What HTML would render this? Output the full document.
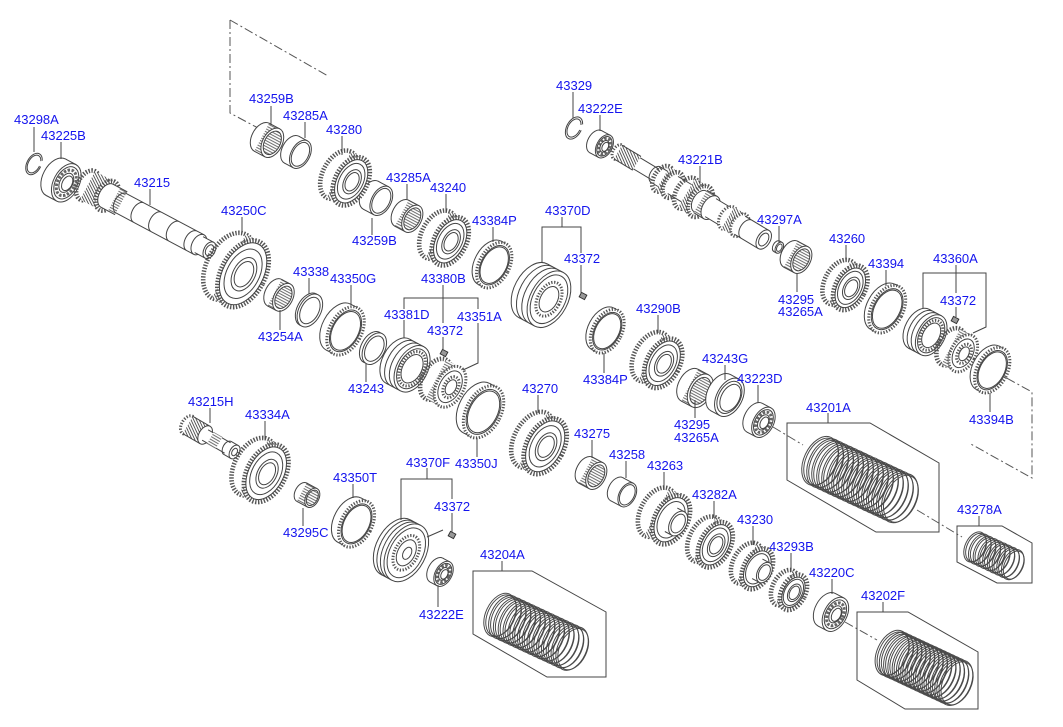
<!DOCTYPE html>
<html><head><meta charset="utf-8"><style>
html,body{margin:0;padding:0;background:#fff}
svg{display:block}
.l{fill:none;stroke:#444;stroke-width:1}
.w{fill:#fff;stroke:#444;stroke-width:1}
.wn{fill:#fff;stroke:none}
.t{fill:none;stroke:#555;stroke-width:4.6;stroke-dasharray:1.4 1.5}
.tw{fill:#fff;stroke:#555;stroke-width:4.6;stroke-dasharray:1.4 1.5}
.t3{fill:#fff;stroke:#555;stroke-width:3;stroke-dasharray:1.3 1.6}
.bl{fill:none;stroke:#666;stroke-width:3;stroke-dasharray:2.5 1.5}
.d{fill:none;stroke:#555;stroke-width:1;stroke-dasharray:9 3 2 3}
.k{fill:#999;stroke:#333;stroke-width:1}
text{font-family:"Liberation Sans",Arial,sans-serif;font-size:13px;fill:#1414ee}
</style></head><body>
<svg width="1063" height="727" viewBox="0 0 1063 727" xmlns="http://www.w3.org/2000/svg">
<defs>
<pattern id="nd" width="10" height="2.6" patternUnits="userSpaceOnUse"><rect width="10" height="2.6" fill="#fff"/><line x1="0" y1="1" x2="10" y2="1" stroke="#5a5a5a" stroke-width="0.9"/></pattern>
<pattern id="hx" width="10" height="3" patternUnits="userSpaceOnUse" patternTransform="skewY(35)"><rect width="10" height="3" fill="#fff"/><line x1="0" y1="1" x2="10" y2="1" stroke="#4a4a4a" stroke-width="1.1"/></pattern>
<g id="sp26"><ellipse fill="none" stroke="#4a4a4a" stroke-width="1" rx="16.1" ry="26"/><ellipse fill="none" stroke="#4a4a4a" stroke-width="1" cx="1.3" rx="15.4" ry="24.8"/></g>
<g id="sp23"><ellipse fill="none" stroke="#4a4a4a" stroke-width="1" rx="14.3" ry="23"/><ellipse fill="none" stroke="#4a4a4a" stroke-width="1" cx="1.3" rx="13.6" ry="21.8"/></g>
<g id="sp24"><ellipse fill="none" stroke="#4a4a4a" stroke-width="1" rx="14.9" ry="24"/><ellipse fill="none" stroke="#4a4a4a" stroke-width="1" cx="1.3" rx="14.2" ry="22.8"/></g>
<g id="sp16"><ellipse fill="none" stroke="#4a4a4a" stroke-width="1" rx="9.9" ry="16"/><ellipse fill="none" stroke="#4a4a4a" stroke-width="1" cx="1.2" rx="9.2" ry="14.9"/></g>
</defs>
<rect width="1063" height="727" fill="#fff"/>

<!-- dashed lines -->
<path class="d" d="M230,20V113L258,128M230,20L328,76"/>
<path class="d" d="M992,370L1032,392V478L969,443"/>
<path class="d" d="M773,427L803,445M917,510L962,537M845,622L877,640"/>

<!-- spring boxes -->
<polygon class="l" points="787,423 870,423 939,463 939,532 876,532 787,480"/>
<polygon class="l" points="473,571 532,571 606,612 606,677 547,677 473,634"/>
<polygon class="l" points="857,612 908,612 978,652 978,709 905,709 857,680"/>
<polygon class="l" points="957,526 1002,526 1032,543 1032,583 997,583 957,562"/>

<!-- springs -->
<g transform="translate(820,461) rotate(25)">
<use href="#sp26" x="0"/><use href="#sp26" x="5.5"/><use href="#sp26" x="11"/><use href="#sp26" x="16.5"/><use href="#sp26" x="22"/><use href="#sp26" x="27.5"/><use href="#sp26" x="33"/><use href="#sp26" x="38.5"/><use href="#sp26" x="44"/><use href="#sp26" x="49.5"/><use href="#sp26" x="55"/><use href="#sp26" x="60.5"/><use href="#sp26" x="66"/><use href="#sp26" x="71.5"/><use href="#sp26" x="77"/><use href="#sp26" x="82.5"/><use href="#sp26" x="88"/>
</g>
<g transform="translate(500,615) rotate(25)">
<use href="#sp23" x="0"/><use href="#sp23" x="5.3"/><use href="#sp23" x="10.6"/><use href="#sp23" x="15.9"/><use href="#sp23" x="21.2"/><use href="#sp23" x="26.5"/><use href="#sp23" x="31.8"/><use href="#sp23" x="37.1"/><use href="#sp23" x="42.4"/><use href="#sp23" x="47.7"/><use href="#sp23" x="53"/><use href="#sp23" x="58.3"/><use href="#sp23" x="63.6"/><use href="#sp23" x="68.9"/><use href="#sp23" x="74.2"/><use href="#sp23" x="79.5"/>
</g>
<g transform="translate(892,653) rotate(25)">
<use href="#sp24" x="0"/><use href="#sp24" x="4.7"/><use href="#sp24" x="9.4"/><use href="#sp24" x="14.1"/><use href="#sp24" x="18.8"/><use href="#sp24" x="23.5"/><use href="#sp24" x="28.2"/><use href="#sp24" x="32.9"/><use href="#sp24" x="37.6"/><use href="#sp24" x="42.3"/><use href="#sp24" x="47"/><use href="#sp24" x="51.7"/><use href="#sp24" x="56.4"/><use href="#sp24" x="61.1"/><use href="#sp24" x="65.8"/><use href="#sp24" x="70.5"/>
</g>
<g transform="translate(975,547) rotate(25)">
<use href="#sp16" x="0"/><use href="#sp16" x="5.2"/><use href="#sp16" x="10.4"/><use href="#sp16" x="15.6"/><use href="#sp16" x="20.8"/><use href="#sp16" x="26"/><use href="#sp16" x="31.2"/><use href="#sp16" x="36.4"/><use href="#sp16" x="41.6"/>
</g>

<!-- snap rings -->
<g transform="translate(34,164) rotate(28)"><ellipse class="l" rx="7.1" ry="11.5" stroke-dasharray="52 6"/><ellipse class="l" rx="5.8" ry="9.6" stroke-dasharray="43 5"/></g>
<g transform="translate(574,128) rotate(28)"><ellipse class="l" rx="7.4" ry="12" stroke-dasharray="54 6"/><ellipse class="l" rx="6" ry="9.8" stroke-dasharray="44 5"/></g>

<!-- ball bearings -->
<g transform="translate(61,180) rotate(28)"><ellipse class="w" cx="-6" rx="12.8" ry="20.6"/><rect class="wn" x="-6" y="-20.6" width="12" height="41.2"/><path class="l" d="M-6,-20.6H6M-6,20.6H6"/><ellipse class="w" cx="6" rx="12.8" ry="20.6"/><ellipse class="l" cx="6" rx="10.8" ry="17.3"/><ellipse class="bl" cx="6" rx="8.6" ry="13.8"/><ellipse class="w" cx="6" rx="6.4" ry="10.3"/><ellipse class="l" cx="7" rx="4.9" ry="7.8"/></g>
<g transform="translate(600,144) rotate(28)"><ellipse class="w" cx="-5" rx="7.8" ry="12.5"/><rect class="wn" x="-5" y="-12.5" width="10" height="25"/><path class="l" d="M-5,-12.5H5M-5,12.5H5"/><ellipse class="w" cx="5" rx="7.8" ry="12.5"/><ellipse class="l" cx="5" rx="6.6" ry="10.5"/><ellipse class="bl" cx="5" rx="5.2" ry="8.4"/><ellipse class="w" cx="5" rx="3.9" ry="6.3"/><ellipse class="l" cx="6" rx="3" ry="4.8"/></g>
<g transform="translate(440,572) rotate(28)"><ellipse class="w" cx="-4" rx="8.4" ry="13.5"/><rect class="wn" x="-4" y="-13.5" width="8" height="27"/><path class="l" d="M-4,-13.5H4M-4,13.5H4"/><ellipse class="w" cx="4" rx="8.4" ry="13.5"/><ellipse class="l" cx="4" rx="7.1" ry="11.3"/><ellipse class="bl" cx="4" rx="5.6" ry="9"/><ellipse class="w" cx="4" rx="4.2" ry="6.8"/><ellipse class="l" cx="5" rx="3.2" ry="5.1"/></g>
<g transform="translate(759,420) rotate(28)"><ellipse class="w" cx="-5" rx="10.1" ry="16.3"/><rect class="wn" x="-5" y="-16.3" width="10" height="32.6"/><path class="l" d="M-5,-16.3H5M-5,16.3H5"/><ellipse class="w" cx="5" rx="10.1" ry="16.3"/><ellipse class="l" cx="5" rx="8.5" ry="13.7"/><ellipse class="bl" cx="5" rx="6.8" ry="10.9"/><ellipse class="w" cx="5" rx="5.1" ry="8.2"/><ellipse class="l" cx="6" rx="3.8" ry="6.2"/></g>
<g transform="translate(831,612) rotate(28)"><ellipse class="w" cx="-5" rx="11.4" ry="18.4"/><rect class="wn" x="-5" y="-18.4" width="10" height="36.8"/><path class="l" d="M-5,-18.4H5M-5,18.4H5"/><ellipse class="w" cx="5" rx="11.4" ry="18.4"/><ellipse class="l" cx="5" rx="9.6" ry="15.5"/><ellipse class="bl" cx="5" rx="7.6" ry="12.3"/><ellipse class="w" cx="5" rx="5.7" ry="9.2"/><ellipse class="l" cx="6" rx="4.3" ry="7"/></g>

<!-- shaft 43215 -->
<g transform="translate(100,192) rotate(28)">
<ellipse class="t" cx="-14" rx="10" ry="16"/><rect x="-14" y="-16" width="22" height="32" fill="url(#hx)"/><ellipse class="tw" cx="8" rx="10" ry="16"/>
<rect class="wn" x="8" y="-13" width="8" height="26"/><path class="l" d="M8,-13H16M8,13H16M8,-13A8 13 0 0 0 8,13"/>
<rect x="16" y="-13" width="8" height="26" fill="url(#nd)"/><path class="l" d="M16,-13H24M16,13H24"/>
<rect class="wn" x="24" y="-11" width="88" height="22"/><path class="l" d="M24,-11H112M24,11H112M24,-11A6.8 11 0 0 0 24,11M44,-11A6.8 11 0 0 0 44,11M64,-11A6.8 11 0 0 0 64,11M84,-11A6.8 11 0 0 0 84,11M104,-11A6.8 11 0 0 0 104,11"/>
<ellipse class="w" cx="112" rx="6.8" ry="11"/>
<rect class="wn" x="112" y="-9" width="12" height="18"/><path class="l" d="M112,-9H124M112,9H124"/><ellipse class="w" cx="124" rx="5.6" ry="9"/><ellipse class="l" cx="124" rx="3.6" ry="5.8"/>
</g>

<!-- shaft 43221B -->
<g transform="translate(618,152) rotate(31)">
<ellipse class="t3" cx="0" rx="5" ry="8"/><rect x="0" y="-8" width="22" height="16" fill="url(#hx)"/><path class="l" d="M0,-8H22M0,8H22"/>
<rect class="wn" x="22" y="-6.5" width="26" height="13"/><path class="l" d="M22,-6.5H48M22,6.5H48"/>
<rect class="wn" x="44" y="-9" width="8" height="18"/><path class="l" d="M44,-9H52M44,9H52M44,-9A5.6 9 0 0 0 44,9"/>
<g transform="translate(58,0)"><ellipse class="t" cx="-6" rx="8.7" ry="14"/><rect x="-6" y="-14" width="12" height="28" fill="url(#hx)"/><ellipse class="tw" cx="6" rx="8.7" ry="14"/></g>
<rect class="wn" x="64" y="-10" width="16" height="20"/><path class="l" d="M64,-10H80M64,10H80"/>
<g transform="translate(88,0)"><ellipse class="t" cx="-8" rx="10.5" ry="17"/><rect x="-8" y="-17" width="16" height="34" fill="url(#hx)"/><ellipse class="tw" cx="8" rx="10.5" ry="17"/><ellipse class="l" cx="8" rx="7.5" ry="12"/></g>
<rect x="96" y="-13" width="12" height="26" fill="url(#nd)"/><path class="l" d="M96,-13H108M96,13H108"/><ellipse class="w" cx="108" rx="8" ry="13"/>
<rect class="wn" x="108" y="-10.5" width="20" height="21"/><path class="l" d="M108,-10.5H128M108,10.5H128"/>
<ellipse class="t3" cx="128" rx="7.8" ry="12.5"/><rect x="128" y="-12.5" width="14" height="25" fill="url(#hx)"/><ellipse class="t3" cx="142" rx="7.8" ry="12.5"/>
<rect class="wn" x="142" y="-10.5" width="28" height="21"/><path class="l" d="M142,-10.5H170M142,10.5H170M150,-10.5A6.5 10.5 0 0 0 150,10.5"/>
<ellipse class="w" cx="170" rx="6.5" ry="10.5"/><ellipse class="l" cx="170" rx="4.3" ry="7"/>
</g>

<!-- shaft 43215H -->
<g transform="translate(193,428) rotate(30)">
<ellipse class="t3" cx="-6" rx="6.2" ry="10"/><rect x="-6" y="-10" width="20" height="20" fill="url(#hx)"/><path class="l" d="M-6,-10H14M-6,10H14"/><ellipse class="w" cx="14" rx="6.2" ry="10"/>
<rect class="wn" x="14" y="-6" width="28" height="12"/><path class="l" d="M14,-6H42M14,6H42"/>
<rect x="20" y="-7" width="10" height="14" fill="url(#nd)"/>
<rect class="wn" x="40" y="-7.5" width="8" height="15"/><path class="l" d="M40,-7.5H48M40,7.5H48M40,-7.5A4.7 7.5 0 0 0 40,7.5"/><ellipse class="w" cx="48" rx="4.7" ry="7.5"/><ellipse class="l" cx="48" rx="2.5" ry="4"/>
</g>

<!-- needle bearings -->
<g transform="translate(267,140) rotate(28)"><ellipse class="w" cx="-6" rx="9.8" ry="15.8"/><rect x="-6" y="-15.8" width="12" height="31.6" fill="url(#nd)"/><path class="l" d="M-6,-15.8H6M-6,15.8H6"/><ellipse class="w" cx="6" rx="9.8" ry="15.8"/><ellipse class="l" cx="6" rx="7.8" ry="12.6" style="fill:url(#nd)"/></g>
<g transform="translate(407,216) rotate(28)"><ellipse class="w" cx="-6" rx="9.1" ry="14.7"/><rect x="-6" y="-14.7" width="12" height="29.4" fill="url(#nd)"/><path class="l" d="M-6,-14.7H6M-6,14.7H6"/><ellipse class="w" cx="6" rx="9.1" ry="14.7"/><ellipse class="l" cx="6" rx="7.3" ry="11.8" style="fill:url(#nd)"/></g>
<g transform="translate(279,295) rotate(28)"><ellipse class="w" cx="-5" rx="9.3" ry="15"/><rect x="-5" y="-15" width="10" height="30" fill="url(#nd)"/><path class="l" d="M-5,-15H5M-5,15H5"/><ellipse class="w" cx="5" rx="9.3" ry="15"/><ellipse class="l" cx="5" rx="7.4" ry="12" style="fill:url(#nd)"/></g>
<g transform="translate(307,495) rotate(28)"><ellipse class="w" cx="-6" rx="6.5" ry="10.4"/><rect x="-6" y="-10.4" width="12" height="20.8" fill="url(#nd)"/><path class="l" d="M-6,-10.4H6M-6,10.4H6"/><ellipse class="w" cx="6" rx="6.5" ry="10.4"/><ellipse class="l" cx="6" rx="5.2" ry="8.3" style="fill:url(#nd)"/></g>
<g transform="translate(591,473) rotate(28)"><ellipse class="w" cx="-6" rx="9.1" ry="14.7"/><rect x="-6" y="-14.7" width="12" height="29.4" fill="url(#nd)"/><path class="l" d="M-6,-14.7H6M-6,14.7H6"/><ellipse class="w" cx="6" rx="9.1" ry="14.7"/><ellipse class="l" cx="6" rx="7.3" ry="11.8" style="fill:url(#nd)"/></g>
<g transform="translate(695,388) rotate(28)"><ellipse class="w" cx="-6" rx="11.2" ry="18"/><rect x="-6" y="-18" width="12" height="36" fill="url(#nd)"/><path class="l" d="M-6,-18H6M-6,18H6"/><ellipse class="w" cx="6" rx="11.2" ry="18"/><ellipse class="l" cx="6" rx="9" ry="14.4" style="fill:url(#nd)"/></g>
<g transform="translate(796,257) rotate(28)"><ellipse class="w" cx="-6" rx="9.1" ry="14.7"/><rect x="-6" y="-14.7" width="12" height="29.4" fill="url(#nd)"/><path class="l" d="M-6,-14.7H6M-6,14.7H6"/><ellipse class="w" cx="6" rx="9.1" ry="14.7"/><ellipse class="l" cx="6" rx="7.3" ry="11.8" style="fill:url(#nd)"/></g>

<!-- bushings -->
<g transform="translate(296,152) rotate(28)"><ellipse class="w" cx="-5" rx="9.4" ry="15.2"/><rect class="wn" x="-5" y="-15.2" width="10" height="30.4"/><path class="l" d="M-5,-15.2H5M-5,15.2H5"/><ellipse class="w" cx="5" rx="9.4" ry="15.2"/><ellipse class="l" cx="5" rx="7.9" ry="12.8"/></g>
<g transform="translate(376,198) rotate(28)"><ellipse class="w" cx="-6" rx="9.8" ry="15.8"/><rect class="wn" x="-6" y="-15.8" width="12" height="31.6"/><path class="l" d="M-6,-15.8H6M-6,15.8H6"/><ellipse class="w" cx="6" rx="9.8" ry="15.8"/><ellipse class="l" cx="6" rx="8.2" ry="13.3"/></g>
<g transform="translate(622,492) rotate(28)"><ellipse class="w" cx="-6" rx="8.1" ry="13"/><rect class="wn" x="-6" y="-13" width="12" height="26"/><path class="l" d="M-6,-13H6M-6,13H6"/><ellipse class="w" cx="6" rx="8.1" ry="13"/><ellipse class="l" cx="6" rx="6.8" ry="10.9"/></g>
<g transform="translate(725,395) rotate(28)"><ellipse class="w" cx="-5" rx="12.8" ry="20.6"/><rect class="wn" x="-5" y="-20.6" width="10" height="41.2"/><path class="l" d="M-5,-20.6H5M-5,20.6H5"/><ellipse class="w" cx="5" rx="12.8" ry="20.6"/><ellipse class="l" cx="5" rx="10.8" ry="17.3"/><ellipse class="l" cx="6" rx="9" ry="14.5"/></g>
<g transform="translate(778,247) rotate(28)"><ellipse class="w" cx="-1.5" rx="3.7" ry="6"/><rect class="wn" x="-1.5" y="-6" width="3" height="12"/><path class="l" d="M-1.5,-6H1.5M-1.5,6H1.5"/><ellipse class="w" cx="1.5" rx="3.7" ry="6"/><ellipse class="l" cx="1.5" rx="2.4" ry="4"/></g>

<!-- washers -->
<g transform="translate(309,310) rotate(28)"><ellipse class="w" cx="-1" rx="11" ry="17.7"/><ellipse class="w" cx="1" rx="11" ry="17.7"/><ellipse class="w" cx="1" rx="8.8" ry="14.2"/></g>
<g transform="translate(373,348) rotate(28)"><ellipse class="w" cx="-1.5" rx="10.5" ry="17"/><ellipse class="w" cx="1.5" rx="10.5" ry="17"/><ellipse class="w" cx="1.5" rx="8.4" ry="13.6"/></g>

<!-- synchro / blocker rings -->
<g transform="translate(492,264) rotate(28)"><ellipse class="l" cx="-2.5" rx="15.2" ry="24.5"/><rect class="wn" x="-2.5" y="-24.5" width="5" height="49"/><path class="l" d="M-2.5,-24.5H2.5M-2.5,24.5H2.5"/><ellipse class="t3" cx="2.5" rx="15.2" ry="24.5"/><ellipse class="l" cx="2.5" rx="13.1" ry="21.1"/><ellipse class="w" cx="2.5" rx="12.2" ry="19.6"/></g>
<g transform="translate(342,329) rotate(28)"><ellipse class="l" cx="-4" rx="16.1" ry="26"/><rect class="wn" x="-4" y="-26" width="8" height="52"/><path class="l" d="M-4,-26H4M-4,26H4"/><ellipse class="t3" cx="4" rx="16.1" ry="26"/><ellipse class="l" cx="4" rx="13.8" ry="22.4"/><ellipse class="w" cx="4" rx="12.9" ry="20.8"/></g>
<g transform="translate(480,410) rotate(28)"><ellipse class="l" cx="-4" rx="17.4" ry="28"/><rect class="wn" x="-4" y="-28" width="8" height="56"/><path class="l" d="M-4,-28H4M-4,28H4"/><ellipse class="t3" cx="4" rx="17.4" ry="28"/><ellipse class="l" cx="4" rx="15" ry="24.1"/><ellipse class="w" cx="4" rx="13.9" ry="22.4"/></g>
<g transform="translate(605,330) rotate(28)"><ellipse class="l" cx="-2.5" rx="14.6" ry="23.5"/><rect class="wn" x="-2.5" y="-23.5" width="5" height="47"/><path class="l" d="M-2.5,-23.5H2.5M-2.5,23.5H2.5"/><ellipse class="t3" cx="2.5" rx="14.6" ry="23.5"/><ellipse class="l" cx="2.5" rx="12.6" ry="20.2"/><ellipse class="w" cx="2.5" rx="11.7" ry="18.8"/></g>
<g transform="translate(353,522) rotate(28)"><ellipse class="l" cx="-4" rx="15.5" ry="25"/><rect class="wn" x="-4" y="-25" width="8" height="50"/><path class="l" d="M-4,-25H4M-4,25H4"/><ellipse class="t3" cx="4" rx="15.5" ry="25"/><ellipse class="l" cx="4" rx="13.3" ry="21.5"/><ellipse class="w" cx="4" rx="12.4" ry="20"/></g>
<g transform="translate(885,308) rotate(28)"><ellipse class="l" cx="-2.5" rx="15.9" ry="25.6"/><rect class="wn" x="-2.5" y="-25.6" width="5" height="51.2"/><path class="l" d="M-2.5,-25.6H2.5M-2.5,25.6H2.5"/><ellipse class="t3" cx="2.5" rx="15.9" ry="25.6"/><ellipse class="l" cx="2.5" rx="13.7" ry="22"/><ellipse class="w" cx="2.5" rx="12.7" ry="20.5"/></g>
<g transform="translate(990,369) rotate(28)"><ellipse class="l" cx="-2.5" rx="15.2" ry="24.5"/><rect class="wn" x="-2.5" y="-24.5" width="5" height="49"/><path class="l" d="M-2.5,-24.5H2.5M-2.5,24.5H2.5"/><ellipse class="t3" cx="2.5" rx="15.2" ry="24.5"/><ellipse class="l" cx="2.5" rx="13.1" ry="21.1"/><ellipse class="w" cx="2.5" rx="12.2" ry="19.6"/></g>

<!-- sleeves -->
<g transform="translate(541,295) rotate(28)"><ellipse class="w" cx="-9" rx="18.8" ry="30.4"/><rect class="wn" x="-9" y="-30.4" width="18" height="60.8"/><path class="l" d="M-9,-30.4H9M-9,30.4H9M-3,-30.4A18.8 30.4 0 0 0 -3,30.4M3,-30.4A18.8 30.4 0 0 0 3,30.4"/><ellipse class="w" cx="9" rx="18.8" ry="30.4"/><ellipse class="l" cx="9" rx="16.2" ry="26.1"/><ellipse class="t3" cx="9" rx="11.3" ry="18.2"/><ellipse class="w" cx="9" rx="8.5" ry="13.7"/></g>
<g transform="translate(405,365) rotate(28)"><ellipse class="w" cx="-8" rx="15.5" ry="25"/><rect class="wn" x="-8" y="-25" width="16" height="50"/><path class="l" d="M-8,-25H8M-8,25H8M-2.7,-25A15.5 25 0 0 0 -2.7,25M2.7,-25A15.5 25 0 0 0 2.7,25"/><ellipse class="w" cx="8" rx="15.5" ry="25"/><ellipse class="l" cx="8" rx="13.3" ry="21.5"/><ellipse class="t3" cx="8" rx="11.5" ry="18.5"/><ellipse class="w" cx="8" rx="9.5" ry="15.3"/></g>
<g transform="translate(401,550) rotate(28)"><ellipse class="w" cx="-6" rx="19.2" ry="31"/><rect class="wn" x="-6" y="-31" width="12" height="62"/><path class="l" d="M-6,-31H6M-6,31H6M-2,-31A19.2 31 0 0 0 -2,31M2,-31A19.2 31 0 0 0 2,31"/><ellipse class="w" cx="6" rx="19.2" ry="31"/><ellipse class="l" cx="6" rx="16.5" ry="26.7"/><ellipse class="t3" cx="6" rx="11.5" ry="18.6"/><ellipse class="w" cx="6" rx="8.6" ry="14"/><ellipse class="l" cx="7" rx="4" ry="6.5"/></g>
<g transform="translate(925,332) rotate(28)"><ellipse class="w" cx="-7" rx="13.6" ry="22"/><rect class="wn" x="-7" y="-22" width="14" height="44"/><path class="l" d="M-7,-22H7M-7,22H7M-2.3,-22A13.6 22 0 0 0 -2.3,22M2.3,-22A13.6 22 0 0 0 2.3,22"/><ellipse class="w" cx="7" rx="13.6" ry="22"/><ellipse class="l" cx="7" rx="11.7" ry="18.9"/><ellipse class="t3" cx="7" rx="10" ry="16"/><ellipse class="w" cx="7" rx="8.2" ry="13.2"/></g>

<!-- gears -->
<g transform="translate(345,178) rotate(28)"><ellipse class="t" cx="-7" rx="16" ry="26"/><rect x="-7" y="-26" width="14" height="52" fill="url(#hx)"/><ellipse class="tw" cx="7" rx="16" ry="26"/><ellipse class="l" cx="7" rx="14.2" ry="23.3"/><ellipse class="l" cx="7" rx="11.8" ry="19.2"/><ellipse class="l" cx="8" rx="8" ry="13"/><ellipse class="l" cx="8" rx="6.1" ry="9.9"/></g>
<g transform="translate(236,270) rotate(28)"><ellipse class="t" cx="-8" rx="22" ry="36"/><rect x="-8" y="-36" width="16" height="72" fill="url(#hx)"/><ellipse class="tw" cx="8" rx="22" ry="36"/><ellipse class="l" cx="8" rx="20.2" ry="33.3"/><ellipse class="l" cx="8" rx="16.3" ry="26.6"/><ellipse class="l" cx="9" rx="11" ry="18"/><ellipse class="l" cx="9" rx="8.4" ry="13.7"/></g>
<g transform="translate(444,238) rotate(28)"><ellipse class="t" cx="-7" rx="16" ry="26"/><rect x="-7" y="-26" width="14" height="52" fill="url(#hx)"/><ellipse class="tw" cx="7" rx="16" ry="26"/><ellipse class="l" cx="7" rx="14.2" ry="23.3"/><ellipse class="l" cx="7" rx="11.8" ry="19.2"/><ellipse class="l" cx="8" rx="8" ry="13"/><ellipse class="l" cx="8" rx="6.1" ry="9.9"/></g>
<g transform="translate(657,360) rotate(28)"><ellipse class="t" cx="-7" rx="16.5" ry="26.6"/><rect x="-7" y="-26.6" width="14" height="53.2" fill="url(#hx)"/><ellipse class="tw" cx="7" rx="16.5" ry="26.6"/><ellipse class="l" cx="7" rx="14.7" ry="23.9"/><ellipse class="l" cx="7" rx="12.2" ry="19.7"/><ellipse class="l" cx="8" rx="8.3" ry="13.3"/><ellipse class="l" cx="8" rx="6.3" ry="10.1"/></g>
<g transform="translate(539,443) rotate(28)"><ellipse class="t" cx="-7" rx="18.6" ry="30"/><rect x="-7" y="-30" width="14" height="60" fill="url(#hx)"/><ellipse class="tw" cx="7" rx="18.6" ry="30"/><ellipse class="l" cx="7" rx="16.8" ry="27.3"/><ellipse class="l" cx="7" rx="13.8" ry="22.2"/><ellipse class="l" cx="8" rx="9.3" ry="15"/><ellipse class="l" cx="8" rx="7.1" ry="11.4"/></g>
<g transform="translate(260,470) rotate(28)"><ellipse class="t" cx="-7" rx="19.2" ry="31"/><rect x="-7" y="-31" width="14" height="62" fill="url(#hx)"/><ellipse class="tw" cx="7" rx="19.2" ry="31"/><ellipse class="l" cx="7" rx="17.4" ry="28.3"/><ellipse class="l" cx="7" rx="14.2" ry="22.9"/><ellipse class="l" cx="8" rx="9.6" ry="15.5"/><ellipse class="l" cx="8" rx="7.3" ry="11.8"/></g>
<g transform="translate(664,516) rotate(28)"><ellipse class="t" cx="-8" rx="16.4" ry="26.5"/><rect x="-8" y="-26.5" width="16" height="53" fill="url(#hx)"/><ellipse class="tw" cx="8" rx="16.4" ry="26.5"/><ellipse class="l" cx="8" rx="14.6" ry="23.8"/><ellipse class="l" cx="8" rx="12.1" ry="19.6"/><rect class="wn" x="8" y="-13.3" width="8" height="26.6"/><path class="l" d="M8,-13.3H16M8,13.3H16"/><ellipse class="w" cx="16" rx="8.2" ry="13.3"/><ellipse class="l" cx="16" rx="6.2" ry="10.1"/></g>
<g transform="translate(710,542) rotate(28)"><ellipse class="t" cx="-6" rx="15.1" ry="24.4"/><rect x="-6" y="-24.4" width="12" height="48.8" fill="url(#hx)"/><ellipse class="tw" cx="6" rx="15.1" ry="24.4"/><ellipse class="l" cx="6" rx="13.3" ry="21.7"/><ellipse class="l" cx="6" rx="11.2" ry="18.1"/><ellipse class="l" cx="7" rx="7.6" ry="12.2"/><ellipse class="l" cx="7" rx="5.7" ry="9.3"/></g>
<g transform="translate(752,566) rotate(28)"><ellipse class="t" cx="-6" rx="13.6" ry="22"/><rect x="-6" y="-22" width="12" height="44" fill="url(#hx)"/><ellipse class="tw" cx="6" rx="13.6" ry="22"/><ellipse class="l" cx="6" rx="11.8" ry="19.3"/><ellipse class="l" cx="6" rx="10.1" ry="16.3"/><rect class="wn" x="6" y="-11" width="8" height="22"/><path class="l" d="M6,-11H14M6,11H14"/><ellipse class="w" cx="14" rx="6.8" ry="11"/><ellipse class="l" cx="14" rx="5.2" ry="8.4"/></g>
<g transform="translate(789,590) rotate(28)"><ellipse class="t" cx="-5" rx="11.8" ry="19"/><rect x="-5" y="-19" width="10" height="38" fill="url(#hx)"/><ellipse class="tw" cx="5" rx="11.8" ry="19"/><ellipse class="l" cx="5" rx="10" ry="16.3"/><ellipse class="l" cx="5" rx="8.7" ry="14.1"/><ellipse class="l" cx="6" rx="5.9" ry="9.5"/><ellipse class="l" cx="6" rx="4.5" ry="7.2"/></g>
<g transform="translate(845,285) rotate(28)"><ellipse class="t" cx="-6" rx="14.9" ry="24"/><rect x="-6" y="-24" width="12" height="48" fill="url(#hx)"/><ellipse class="tw" cx="6" rx="14.9" ry="24"/><ellipse class="l" cx="6" rx="13.1" ry="21.3"/><ellipse class="l" cx="6" rx="11" ry="17.8"/><ellipse class="l" cx="7" rx="7.5" ry="12"/><ellipse class="l" cx="7" rx="5.7" ry="9.1"/></g>
<!-- hubs -->
<g transform="translate(443,383) rotate(28)"><ellipse class="t" cx="-8" rx="13.6" ry="22"/><rect x="-8" y="-22" width="16" height="44" fill="url(#nd)"/><ellipse class="t3" cx="8" rx="13.6" ry="22"/><ellipse class="l" cx="8" rx="10.5" ry="17"/><ellipse class="t3" cx="9" rx="7" ry="11.3"/><ellipse class="w" cx="9" rx="5" ry="8"/></g>
<g transform="translate(957,350) rotate(28)"><ellipse class="t" cx="-7" rx="12.4" ry="20"/><rect x="-7" y="-20" width="14" height="40" fill="url(#nd)"/><ellipse class="t3" cx="7" rx="12.4" ry="20"/><ellipse class="l" cx="7" rx="9.5" ry="15.4"/><ellipse class="t3" cx="8" rx="6.4" ry="10.3"/><ellipse class="w" cx="8" rx="4.6" ry="7.4"/></g>

<!-- keys 43372 -->
<rect class="k" x="-3" y="-2.5" width="6" height="5" transform="translate(583,296) rotate(28)"/>
<rect class="k" x="-3" y="-2.5" width="6" height="5" transform="translate(444,353) rotate(28)"/>
<rect class="k" x="-3" y="-2.5" width="6" height="5" transform="translate(452,535) rotate(28)"/>
<rect class="k" x="-3" y="-2.5" width="6" height="5" transform="translate(955,320) rotate(28)"/>

<!-- leaders -->
<path class="l" d="M34,127V152M61,142V159M271,106V125M305,122V138M342,136V155M150,189V205M242,217V233M407,184V200M446,194V213M372,218V235M493,227V242M309,278V294M351,285V305M280,310V330M366,363V382M604,353V373M658,315V333M538,395V413M477,438V457M210,408V423M265,421V440M303,508V526M353,484V498M438,585V607M573,92V118M600,115V131M700,166V183M779,226V243M797,273V292M846,245V262M886,270V286M725,365V380M758,385V403M695,400V418M990,393V412M592,440V458M626,461V478M664,472V490M714,501V518M753,526V545M791,553V572M832,579V594"/>
<path class="l" d="M828,413V423M502,561V571M883,602V612M979,516V526"/>
<!-- brackets -->
<path class="l" d="M562,217V227M542,263V227H581V253M581,265V293"/>
<path class="l" d="M443,285V323M404,309V298H478V309M404,320V338M443,337V350M478,323V363L463,370"/>
<path class="l" d="M427,468V479M401,520V479H452V499M452,513V532M427,537L443,530"/>
<path class="l" d="M956,265V293M923,308V273H986V327L973,333M956,307V317"/>

<!-- labels -->
<text x="14" y="124">43298A</text>
<text x="41" y="140">43225B</text>
<text x="249" y="103">43259B</text>
<text x="283" y="120">43285A</text>
<text x="326" y="134">43280</text>
<text x="134" y="187">43215</text>
<text x="221" y="215">43250C</text>
<text x="386" y="182">43285A</text>
<text x="430" y="192">43240</text>
<text x="352" y="245">43259B</text>
<text x="472" y="225">43384P</text>
<text x="545" y="215">43370D</text>
<text x="564" y="263">43372</text>
<text x="293" y="276">43338</text>
<text x="330" y="283">43350G</text>
<text x="421" y="283">43380B</text>
<text x="384" y="319">43381D</text>
<text x="427" y="335">43372</text>
<text x="457" y="321">43351A</text>
<text x="348" y="393">43243</text>
<text x="522" y="393">43270</text>
<text x="583" y="384">43384P</text>
<text x="636" y="313">43290B</text>
<text x="556" y="90">43329</text>
<text x="578" y="113">43222E</text>
<text x="678" y="164">43221B</text>
<text x="757" y="224">43297A</text>
<text x="829" y="243">43260</text>
<text x="868" y="268">43394</text>
<text x="933" y="263">43360A</text>
<text x="940" y="305">43372</text>
<text x="778" y="304">43295</text>
<text x="778" y="316">43265A</text>
<text x="702" y="363">43243G</text>
<text x="737" y="383">43223D</text>
<text x="674" y="429">43295</text>
<text x="674" y="442">43265A</text>
<text x="806" y="412">43201A</text>
<text x="969" y="424">43394B</text>
<text x="574" y="438">43275</text>
<text x="609" y="459">43258</text>
<text x="647" y="470">43263</text>
<text x="692" y="499">43282A</text>
<text x="737" y="524">43230</text>
<text x="769" y="551">43293B</text>
<text x="809" y="577">43220C</text>
<text x="861" y="600">43202F</text>
<text x="957" y="514">43278A</text>
<text x="188" y="406">43215H</text>
<text x="245" y="419">43334A</text>
<text x="333" y="482">43350T</text>
<text x="283" y="537">43295C</text>
<text x="406" y="467">43370F</text>
<text x="455" y="468">43350J</text>
<text x="434" y="511">43372</text>
<text x="480" y="559">43204A</text>
<text x="419" y="619">43222E</text>
<text x="258" y="341">43254A</text>
</svg>
</body></html>
